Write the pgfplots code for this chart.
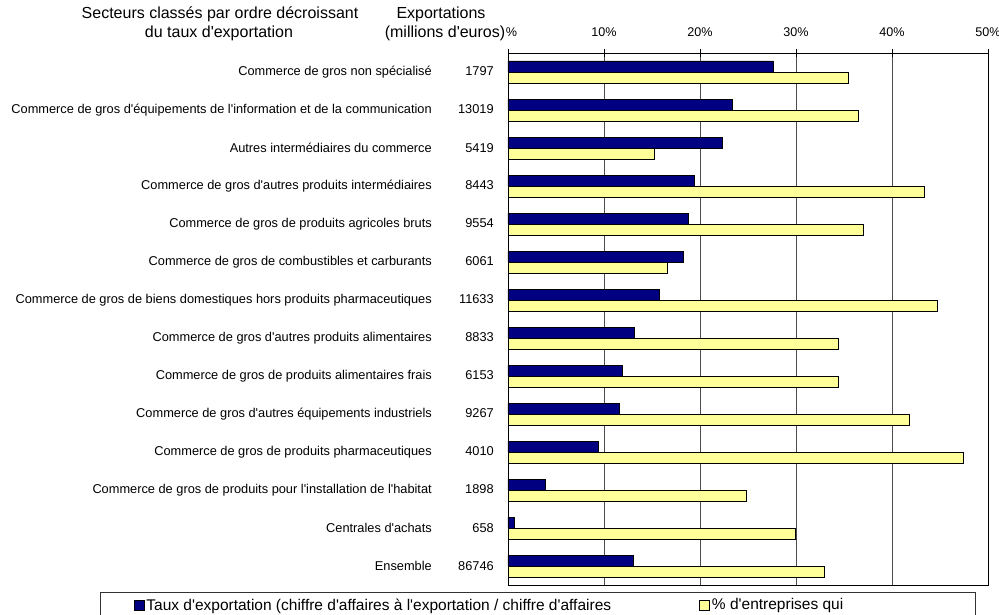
\documentclass[border=0pt]{standalone}
\usepackage{pgfplots}
\pgfplotsset{compat=1.18}
\usepackage{fontspec}
\setmainfont{Liberation Sans}[Ligatures=TeXOff]
\definecolor{navyb}{RGB}{0,0,128}
\definecolor{paleyel}{RGB}{255,255,153}
\newcommand\lab[2]{#1\makebox[62pt][r]{#2}}

% taux d'exportation / % d'entreprises exportatrices
\pgfplotstableread{
idx taux part
0  27.6 35.5
1  23.4 36.5
2  22.3 15.2
3  19.4 43.4
4  18.8 37.0
5  18.3 16.6
6  15.8 44.7
7  13.2 34.4
8  11.9 34.4
9  11.6 41.8
10 9.4  47.4
11 3.9  24.8
12 0.7  29.9
13 13.1 33.0
}\secteurs

\begin{document}
\fontsize{12.8}{15}\selectfont
\begin{tikzpicture}[x=1pt,y=1pt]
\begin{axis}[
  at={(508pt,30pt)}, anchor=south west,
  scale only axis, width=480pt, height=532pt,
  xmin=0, xmax=50, ymin=-0.5, ymax=13.5, y dir=reverse,
  xbar, bar width=11pt,
  xtick={0,10,...,50},
  xticklabels={\phantom{0}\%,10\%,20\%,30\%,40\%,50\%},
  xtick pos=right, xticklabel pos=right,
  tick align=center, major tick length=8pt,
  xticklabel style={inner sep=0pt, yshift=12pt, font=\fontsize{12.6}{15}\selectfont},
  ytick={0,...,13},
  yticklabels={
    \lab{Commerce de gros non spécialisé}{1797},
    \lab{Commerce de gros d'équipements de l'information et de la communication}{13019},
    \lab{Autres intermédiaires du commerce}{5419},
    \lab{Commerce de gros d'autres produits intermédiaires}{8443},
    \lab{Commerce de gros de produits agricoles bruts}{9554},
    \lab{Commerce de gros de combustibles et carburants}{6061},
    \lab{Commerce de gros de biens domestiques hors produits pharmaceutiques}{11633},
    \lab{Commerce de gros d'autres produits alimentaires}{8833},
    \lab{Commerce de gros de produits alimentaires frais}{6153},
    \lab{Commerce de gros d'autres équipements industriels}{9267},
    \lab{Commerce de gros de produits pharmaceutiques}{4010},
    \lab{Commerce de gros de produits pour l'installation de l'habitat}{1898},
    \lab{Centrales d'achats}{658},
    \lab{Ensemble}{86746}},
  y tick style={draw=none},
  yticklabel style={inner sep=0pt, xshift=-10pt},
  xmajorgrids, major grid style={black!70, line width=0.8pt},
  axis line style={line width=0.8pt},
  every tick/.style={black, line width=0.8pt},
  legend columns=2,
  legend style={draw=none, fill=none, at={(axis description cs:-0.78,-0.0215)},
    anchor=north west, inner sep=0pt, font=\fontsize{15.5}{18}\selectfont,
    /tikz/every even column/.append style={column sep=0pt}},
  legend cell align=left,
  legend image code/.code={\draw[#1, draw=black] (0pt,-5pt) rectangle (10pt,5pt);},
]
\addplot[fill=navyb, draw=black, line width=0.6pt, bar shift=5.5pt] table[x=taux, y=idx] {\secteurs};
\addlegendentry{\makebox[551pt][l]{Taux d'exportation (chiffre d'affaires à l'exportation / chiffre d'affaires}}
\addplot[fill=paleyel, draw=black, line width=0.6pt, bar shift=-5.5pt] table[x=part, y=idx] {\secteurs};
\addlegendentry{\% d'entreprises qui}
\end{axis}
\begin{scope}[font=\fontsize{16}{19}\selectfont]
\node at (220,601) {Secteurs classés par ordre décroissant};
\node at (219,582) {du taux d'exportation};
\node at (441,601) {Exportations};
\node at (445,582) {(millions d'euros)};
\end{scope}
\draw[black!80, line width=0.8pt] (100,23) rectangle (975,-30);
\pgfresetboundingbox
\useasboundingbox (0,0) rectangle (999,615);
\end{tikzpicture}
\end{document}
